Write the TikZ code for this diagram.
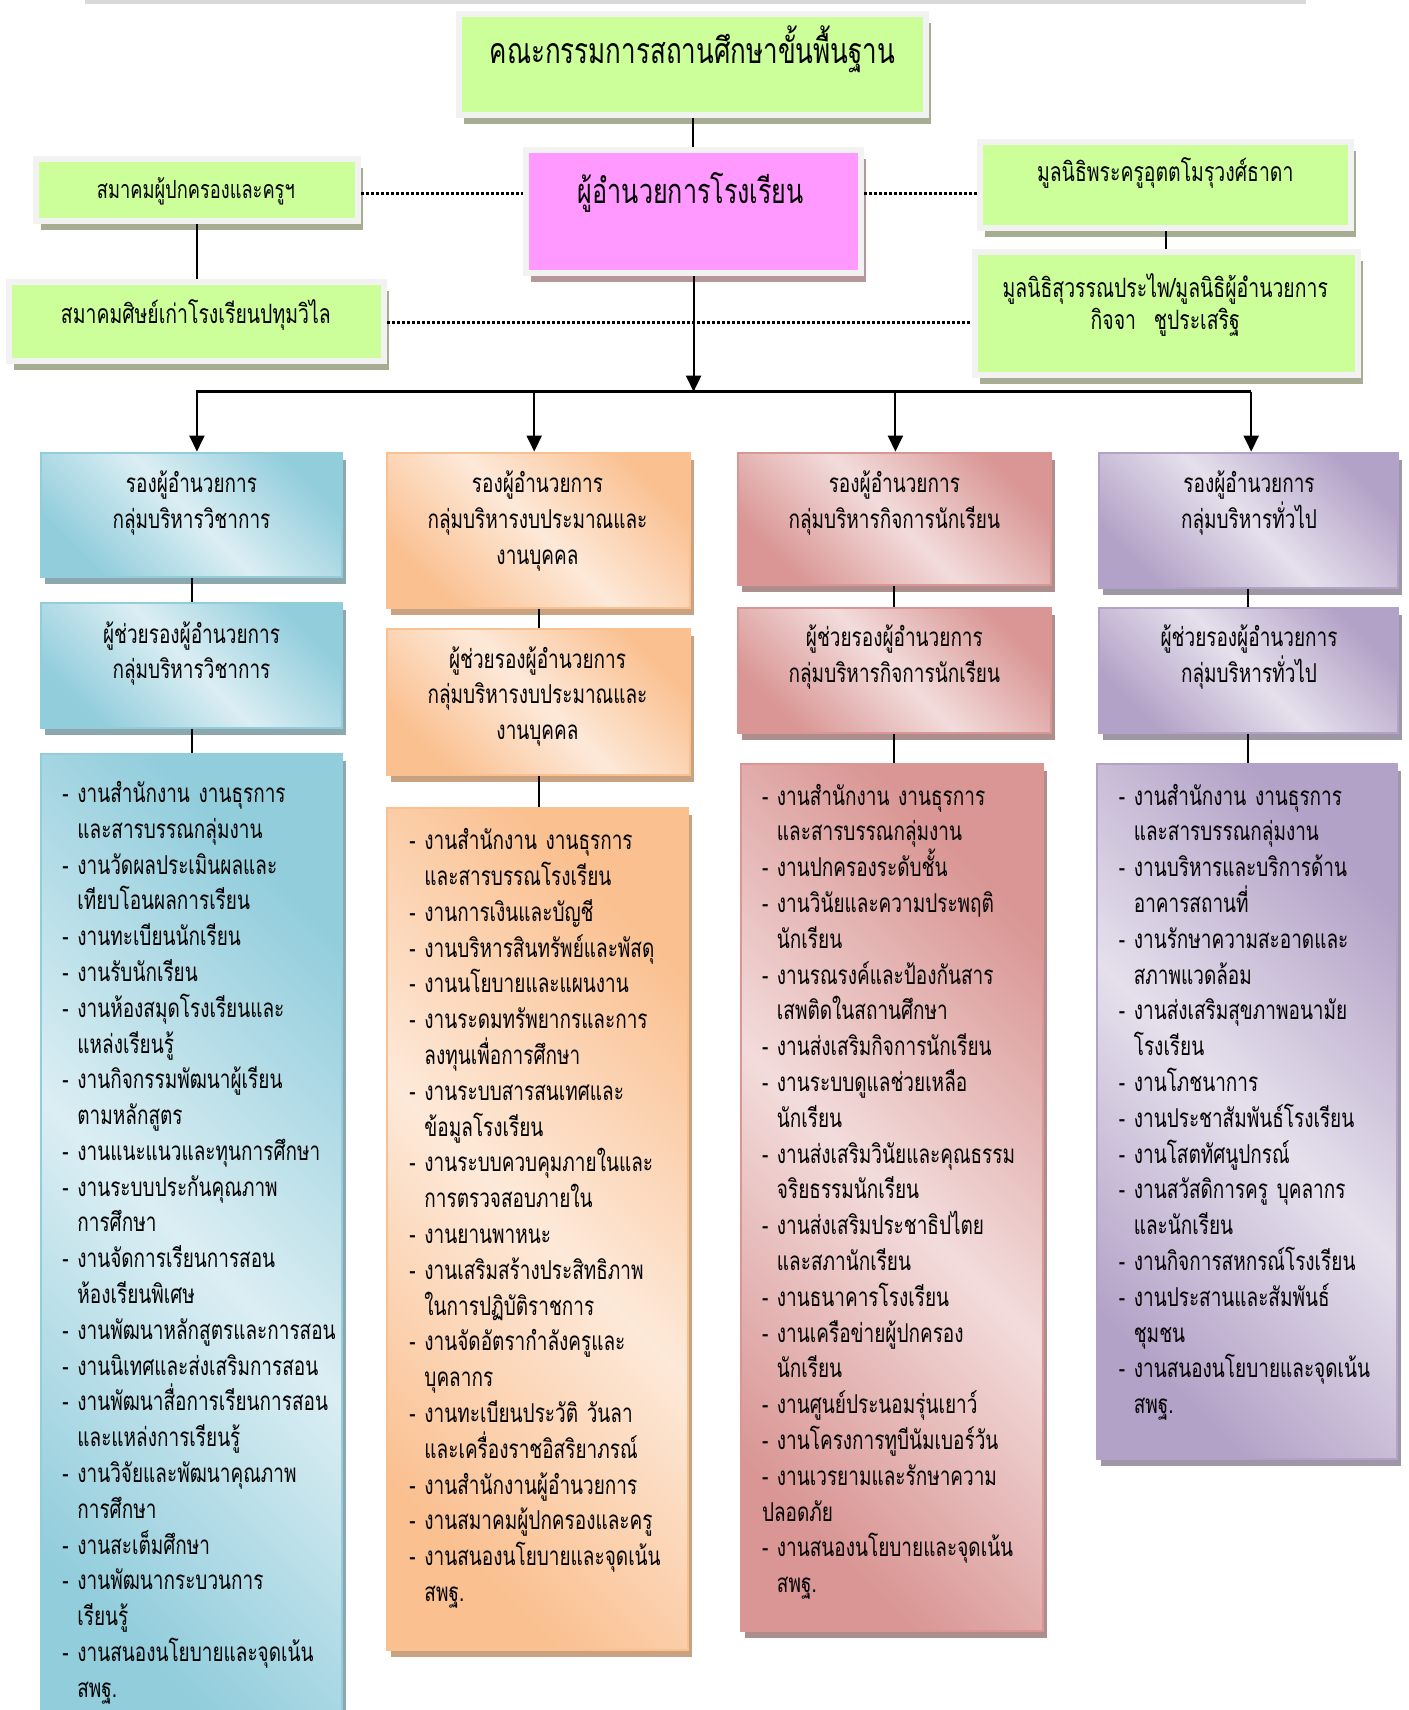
\documentclass[tikz,border=0pt]{standalone}
\usepackage{fontspec}
\setmainfont[Script=Thai,FakeStretch=0.73]{Loma}
\usetikzlibrary{arrows.meta,positioning,fit,shadows}

\definecolor{grnfill}{HTML}{CCFF99}
\definecolor{framegray}{HTML}{F2F2F2}
\definecolor{grnshadow}{HTML}{A6AD92}
\definecolor{pinkfill}{HTML}{FF99FF}
\definecolor{pinkshadow}{HTML}{B5979A}
\definecolor{bluedark}{HTML}{92CDDC}
\definecolor{bluelight}{HTML}{DBEEF3}
\definecolor{blueshadow}{HTML}{8DA7AE}
\definecolor{orangedark}{HTML}{FAC090}
\definecolor{orangelight}{HTML}{FDE9D9}
\definecolor{orangeshadow}{HTML}{C9A282}
\definecolor{reddark}{HTML}{D99694}
\definecolor{redlight}{HTML}{F2DCDB}
\definecolor{redshadow}{HTML}{AE8D8D}
\definecolor{purpledark}{HTML}{B3A2C7}
\definecolor{purplelight}{HTML}{E5E0EC}
\definecolor{purpleshadow}{HTML}{9D97A6}

\newcommand{\colfont}{\fontsize{13pt}{17.9pt}\selectfont}
\newcommand{\sidefont}{\fontsize{13.3pt}{16.3pt}\selectfont}
\newcommand{\smallside}{\fontsize{12.5pt}{16.3pt}\selectfont}
\newcommand{\headfont}{\fontsize{17.2pt}{20pt}\selectfont}
\newcommand{\topfont}{\fontsize{17.8pt}{22pt}\selectfont}
\newcommand{\cont}{\phantom{- }}
\lineskiplimit=-100pt

\tikzset{
  framebox/.style={draw=framegray, line width=3pt, inner sep=0pt,
    drop shadow={shadow xshift=2.5pt, shadow yshift=-4.5pt, fill=#1, opacity=1}},
  greenbox/.style={framebox=grnshadow, fill=grnfill},
  pinkbox/.style={framebox=pinkshadow, fill=pinkfill},
  colbox/.style n args={3}{draw=#1, line width=1pt, inner sep=0pt,
    left color=#1, right color=#1, middle color=#2, shading angle=-45,
    drop shadow={shadow xshift=2pt, shadow yshift=-3.5pt, fill=#3, opacity=1}},
  bluebox/.style={colbox={bluedark}{bluelight}{blueshadow}},
  orangebox/.style={colbox={orangedark}{orangelight}{orangeshadow}},
  redbox/.style={colbox={reddark}{redlight}{redshadow}},
  purplebox/.style={colbox={purpledark}{purplelight}{purpleshadow}},
  sidetext/.style={font=\sidefont, inner sep=0pt, text width=200pt, align=center, anchor=base},
  coltext/.style={font=\colfont, inner sep=0pt, text width=150pt, align=center, anchor=base},
  listtext/.style={font=\colfont, inner sep=0pt, text width=200pt, align=left, anchor=base west},
  link/.style={line width=1pt},
  dotlink/.style={line width=1.5pt, dash pattern=on 1.5pt off 1pt},
}

\begin{document}
\begin{tikzpicture}[x=0.544pt, y=-0.544pt, >={Triangle[length=8pt,width=7.5pt]}]

    %% page
    \useasboundingbox (0,0) rectangle (1295,1571.7);
    \clip (0,0) rectangle (1295,1571.7);
    \fill[gray!30] (78,-5) rectangle (1200,4);

    %% upper boxes
    \node[greenbox, fit={(422,13) (851,106)}] (top) {};
    \node[pinkbox, fit={(483.5,137.5) (791.5,251)}] (pink) {};
    \node[greenbox, fit={(33.5,146) (329.5,203)}] (left1) {};
    \node[greenbox, fit={(8.5,259.5) (353,332)}] (left2) {};
    \node[greenbox, fit={(901,130.5) (1241.5,210)}] (right1) {};
    \node[greenbox, fit={(896,232) (1248.5,345)}] (right2) {};

    \node[font=\topfont, inner sep=0pt, anchor=base] (topt) at (636.5,58) {คณะกรรมการสถานศึกษาขั้นพื้นฐาน};
    \node[font=\headfont, inner sep=0pt, anchor=base] (pinkt) at (635,187) {ผู้อำนวยการโรงเรียน};
    \node[sidetext, font=\smallside] (left1t) at (180,182) {สมาคมผู้ปกครองและครูฯ};
    \node[sidetext] (left2t) at (180,297) {สมาคมศิษย์เก่าโรงเรียนปทุมวิไล};
    \node[sidetext] (right1t) at (1071,167) {มูลนิธิพระครูอุตตโมรุวงศ์ธาดา};
    \node[sidetext] (right2t) at (1071,273) {มูลนิธิสุวรรณประไพ/มูลนิธิผู้อำนวยการ\\กิจจา\ \ ชูประเสริฐ};

    %% group boxes
    \node[bluebox, fit={(38,416) (314.5,530)}] (a1) {};
    \node[bluebox, fit={(38,554) (314.5,669)}] (b1) {};
    \node[bluebox, fit={(38,693) (314.5,1600)}] (c1) {};
    \node[orangebox, fit={(355.5,416) (634.5,559)}] (a2) {};
    \node[orangebox, fit={(355.5,578) (634.5,712.5)}] (b2) {};
    \node[orangebox, fit={(355.5,742.5) (632.5,1516.5)}] (c2) {};
    \node[redbox, fit={(678,416) (966,537.5)}] (a3) {};
    \node[redbox, fit={(678,558.5) (966,674)}] (b3) {};
    \node[redbox, fit={(681,702) (958.5,1499.5)}] (c3) {};
    \node[purplebox, fit={(1010,416) (1285,540.5)}] (a4) {};
    \node[purplebox, fit={(1010,558.5) (1285,674)}] (b4) {};
    \node[purplebox, fit={(1008,702.5) (1284,1341)}] (c4) {};

    \node[coltext] (a1t) at (176,453) {รองผู้อำนวยการ\\กลุ่มบริหารวิชาการ};
    \node[coltext] (b1t) at (176,591) {ผู้ช่วยรองผู้อำนวยการ\\กลุ่มบริหารวิชาการ};
    \node[coltext] (a2t) at (494,453) {รองผู้อำนวยการ\\กลุ่มบริหารงบประมาณและ\\งานบุคคล};
    \node[coltext] (b2t) at (494,614) {ผู้ช่วยรองผู้อำนวยการ\\กลุ่มบริหารงบประมาณและ\\งานบุคคล};
    \node[coltext] (a3t) at (822,453) {รองผู้อำนวยการ\\กลุ่มบริหารกิจการนักเรียน};
    \node[coltext] (b3t) at (822,594.5) {ผู้ช่วยรองผู้อำนวยการ\\กลุ่มบริหารกิจการนักเรียน};
    \node[coltext] (a4t) at (1148,453) {รองผู้อำนวยการ\\กลุ่มบริหารทั่วไป};
    \node[coltext] (b4t) at (1148,594.5) {ผู้ช่วยรองผู้อำนวยการ\\กลุ่มบริหารทั่วไป};

    %% task lists
    \node[listtext] (c1t) at (57,737.5) {- งานสำนักงาน งานธุรการ\\
      \cont และสารบรรณกลุ่มงาน\\
      - งานวัดผลประเมินผลและ\\
      \cont เทียบโอนผลการเรียน\\
      - งานทะเบียนนักเรียน\\
      - งานรับนักเรียน\\
      - งานห้องสมุดโรงเรียนและ\\
      \cont แหล่งเรียนรู้\\
      - งานกิจกรรมพัฒนาผู้เรียน\\
      \cont ตามหลักสูตร\\
      - งานแนะแนวและทุนการศึกษา\\
      - งานระบบประกันคุณภาพ\\
      \cont การศึกษา\\
      - งานจัดการเรียนการสอน\\
      \cont ห้องเรียนพิเศษ\\
      - งานพัฒนาหลักสูตรและการสอน\\
      - งานนิเทศและส่งเสริมการสอน\\
      - งานพัฒนาสื่อการเรียนการสอน\\
      \cont และแหล่งการเรียนรู้\\
      - งานวิจัยและพัฒนาคุณภาพ\\
      \cont การศึกษา\\
      - งานสะเต็มศึกษา\\
      - งานพัฒนากระบวนการ\\
      \cont เรียนรู้\\
      - งานสนองนโยบายและจุดเน้น\\
      \cont สพฐ.};

    \node[listtext] (c2t) at (376,781) {- งานสำนักงาน งานธุรการ\\
      \cont และสารบรรณโรงเรียน\\
      - งานการเงินและบัญชี\\
      - งานบริหารสินทรัพย์และพัสดุ\\
      - งานนโยบายและแผนงาน\\
      - งานระดมทรัพยากรและการ\\
      \cont ลงทุนเพื่อการศึกษา\\
      - งานระบบสารสนเทศและ\\
      \cont ข้อมูลโรงเรียน\\
      - งานระบบควบคุมภายในและ\\
      \cont การตรวจสอบภายใน\\
      - งานยานพาหนะ\\
      - งานเสริมสร้างประสิทธิภาพ\\
      \cont ในการปฏิบัติราชการ\\
      - งานจัดอัตรากำลังครูและ\\
      \cont บุคลากร\\
      - งานทะเบียนประวัติ วันลา\\
      \cont และเครื่องราชอิสริยาภรณ์\\
      - งานสำนักงานผู้อำนวยการ\\
      - งานสมาคมผู้ปกครองและครู\\
      - งานสนองนโยบายและจุดเน้น\\
      \cont สพฐ.};

    \node[listtext] (c3t) at (700,740) {- งานสำนักงาน งานธุรการ\\
      \cont และสารบรรณกลุ่มงาน\\
      - งานปกครองระดับชั้น\\
      - งานวินัยและความประพฤติ\\
      \cont นักเรียน\\
      - งานรณรงค์และป้องกันสาร\\
      \cont เสพติดในสถานศึกษา\\
      - งานส่งเสริมกิจการนักเรียน\\
      - งานระบบดูแลช่วยเหลือ\\
      \cont นักเรียน\\
      - งานส่งเสริมวินัยและคุณธรรม\\
      \cont จริยธรรมนักเรียน\\
      - งานส่งเสริมประชาธิปไตย\\
      \cont และสภานักเรียน\\
      - งานธนาคารโรงเรียน\\
      - งานเครือข่ายผู้ปกครอง\\
      \cont นักเรียน\\
      - งานศูนย์ประนอมรุ่นเยาว์\\
      - งานโครงการทูบีนัมเบอร์วัน\\
      - งานเวรยามและรักษาความ\\
      ปลอดภัย\\
      - งานสนองนโยบายและจุดเน้น\\
      \cont สพฐ.};

    \node[listtext] (c4t) at (1028,740) {- งานสำนักงาน งานธุรการ\\
      \cont และสารบรรณกลุ่มงาน\\
      - งานบริหารและบริการด้าน\\
      \cont อาคารสถานที่\\
      - งานรักษาความสะอาดและ\\
      \cont สภาพแวดล้อม\\
      - งานส่งเสริมสุขภาพอนามัย\\
      \cont โรงเรียน\\
      - งานโภชนาการ\\
      - งานประชาสัมพันธ์โรงเรียน\\
      - งานโสตทัศนูปกรณ์\\
      - งานสวัสดิการครู บุคลากร\\
      \cont และนักเรียน\\
      - งานกิจการสหกรณ์โรงเรียน\\
      - งานประสานและสัมพันธ์\\
      \cont ชุมชน\\
      - งานสนองนโยบายและจุดเน้น\\
      \cont สพฐ.};

    %% links
    \coordinate (dot1) at (0,178);
    \coordinate (dot2) at (0,296.5);
    \draw[dotlink] (left1.east |- dot1) -- (pink.west |- dot1);
    \draw[dotlink] (pink.east |- dot1) -- (right1.west |- dot1);
    \draw[dotlink] (left2.east |- dot2) -- (right2.west |- dot2);

    \draw[link] (top.south) -- (top.south |- pink.north);
    \draw[link] (left1.south) -- (left1.south |- left2.north);
    \draw[link] (right1.south) -- (right1.south |- right2.north);

    \coordinate (bus0) at (180,360);
    \coordinate (bus1) at (181,360);
    \coordinate (bus2) at (491,360);
    \coordinate (bus3) at (823,360);
    \coordinate (bus4) at (1150,360);
    \draw[line width=1.3pt] (bus0) -- (bus4);
    \draw[link, ->] (pink.south) -- (pink.south |- bus0);

    \foreach \n in {1,...,4}
    {
    \draw[link, ->] (bus\n) -- (bus\n |- a\n.north);
    \draw[link] (a\n.south) -- (a\n.south |- b\n.north);
    \draw[link] (b\n.south) -- (b\n.south |- c\n.north);
    }

\end{tikzpicture}
\end{document}
